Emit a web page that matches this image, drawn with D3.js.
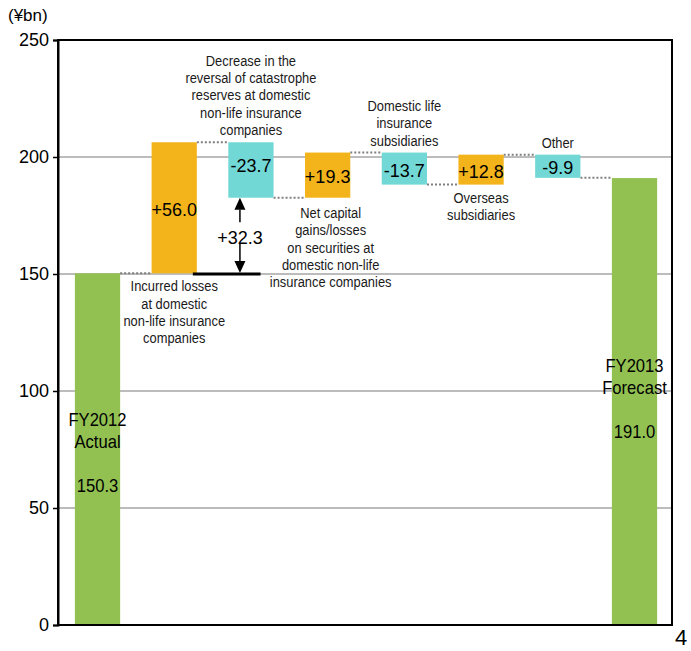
<!DOCTYPE html>
<html>
<head>
<meta charset="utf-8">
<script src="https://cdn.jsdelivr.net/npm/d3@7"></script>
<style>
  html, body { margin: 0; padding: 0; background: #fff; }
  svg { display: block; }
</style>
</head>
<body>
<svg id="chart" width="691" height="651"></svg>
<script>
// ---- data ----
const categories = ["FY2012 Actual", "Incurred losses", "Catastrophe reserves", "Net capital gains", "Domestic life", "Overseas", "Other", "FY2013 Forecast"];
const values = [150.3, 56.0, -23.7, 19.3, -13.7, 12.8, -9.9, 191.0];
const kinds = ["total", "delta", "delta", "delta", "delta", "delta", "delta", "total"];
const valueLabels = ["150.3", "+56.0", "-23.7", "+19.3", "-13.7", "+12.8", "-9.9", "191.0"];
const totalTitles = [["FY2012", "Actual"], null, null, null, null, null, null, ["FY2013", "Forecast"]];
const annotations = [
  null,
  ["Incurred losses", "at domestic", "non-life insurance", "companies"],
  ["Decrease in the", "reversal of catastrophe", "reserves at domestic", "non-life insurance", "companies"],
  ["Net capital", "gains/losses", "on securities at", "domestic non-life", "insurance companies"],
  ["Domestic life", "insurance", "subsidiaries"],
  ["Overseas", "subsidiaries"],
  ["Other"],
  null
];
const annotationSide = [null, "below", "above", "below", "above", "below", "above", null];
const yTicks = [0, 50, 100, 150, 200, 250];
const bracketLabel = "+32.3";
const bracketFrom = 150;      // level of the black reference line
const bracketCategory = 2;    // arrow under the catastrophe bar
const unitLabel = "(¥bn)";
const pageNumber = "4";

// ---- layout ----
const svg = d3.select("#chart");
const margin = { left: 58, right: 19, top: 40, bottom: 26 };
const W = 691, H = 651;
const x = d3.scaleBand().domain(categories).range([margin.left, W - margin.right + 2]).paddingInner(0.41).paddingOuter(0.22);
const y = d3.scaleLinear().domain([0, 250]).range([H - margin.bottom, margin.top]);

const colors = { total: "#92C152", up: "#F3B41B", down: "#72D8D6" };
const fontMain = "'Liberation Sans', Arial, sans-serif";
const narrowScale = 0.86;

// compute waterfall
let running = 0;
const bars = values.map((v, i) => {
  let y0, y1;
  if (kinds[i] === "total") { y0 = 0; y1 = v; running = v; }
  else { y0 = running; y1 = running + v; running = y1; }
  return { cat: categories[i], v, y0, y1, kind: kinds[i], i,
           lo: Math.min(y0, y1), hi: Math.max(y0, y1) };
});

// gridlines
svg.append("g").selectAll("line").data(yTicks.filter(t => t > 0 && t < 250)).join("line")
  .attr("x1", margin.left).attr("x2", W - margin.right)
  .attr("y1", d => y(d)).attr("y2", d => y(d))
  .attr("stroke", "#A6A6A6").attr("stroke-width", 1.5);

// connectors (dotted)
svg.append("g").selectAll("line").data(bars.slice(0, -1)).join("line")
  .attr("x1", d => x(d.cat) + x.bandwidth())
  .attr("x2", d => x(categories[d.i + 1]))
  .attr("y1", d => y(d.y1)).attr("y2", d => y(d.y1))
  .attr("stroke", "#7F7F7F").attr("stroke-width", 2).attr("stroke-dasharray", "2,2");

// bars
svg.append("g").selectAll("rect").data(bars).join("rect")
  .attr("x", d => x(d.cat)).attr("width", x.bandwidth())
  .attr("y", d => y(d.hi)).attr("height", d => y(d.lo) - y(d.hi))
  .attr("fill", d => d.kind === "total" ? colors.total : (d.v >= 0 ? colors.up : colors.down));

// value labels inside delta bars
svg.append("g").selectAll("text").data(bars.filter(d => d.kind === "delta")).join("text")
  .attr("x", d => x(d.cat) + x.bandwidth() / 2)
  .attr("y", d => (y(d.lo) + y(d.hi)) / 2 + (d.i === 2 ? 2 : 8))
  .attr("text-anchor", "middle")
  .attr("font-family", fontMain).attr("font-size", 18).attr("fill", "#000")
  .text(d => valueLabels[d.i]);

// total bar labels
bars.filter(d => d.kind === "total").forEach(d => {
  const cx = x(d.cat) + x.bandwidth() / 2;
  const base = y(d.v * 0.565);
  const g = svg.append("g").attr("font-family", fontMain).attr("font-size", 17.5).attr("text-anchor", "middle").attr("fill", "#000");
  totalTitles[d.i].forEach((t, k) => g.append("text")
    .attr("transform", `translate(${cx},${base + k * 22}) scale(0.95,1)`).text(t));
  g.append("text").attr("transform", `translate(${cx},${base + 66}) scale(0.95,1)`).text(valueLabels[d.i]);
});

// annotations
bars.forEach(d => {
  const lines = annotations[d.i];
  if (!lines) return;
  const cx = x(d.cat) + x.bandwidth() / 2 + (d.i === 3 ? 3 : 0);
  const lh = 17.4;
  const g = svg.append("g").attr("font-family", fontMain).attr("font-size", 15)
    .attr("text-anchor", "middle").attr("fill", "#1a1a1a");
  let first;
  if (annotationSide[d.i] === "below") first = y(d.lo) + (d.i === 3 ? 20 : 18);
  else first = y(d.hi) - 7 - (lines.length - 1) * lh;
  lines.forEach((t, k) => g.append("text")
    .attr("transform", `translate(${cx},${first + k * lh}) scale(${narrowScale},1)`).text(t));
});

// reference black line + double arrow
const bc = bars[bracketCategory];
const ax = x(bc.cat) + x.bandwidth() / 2 - 11;
svg.append("line")
  .attr("x1", x(categories[bracketCategory - 1]) + x.bandwidth() - 4)
  .attr("x2", x(bc.cat) + x.bandwidth() - 13)
  .attr("y1", y(bracketFrom)).attr("y2", y(bracketFrom))
  .attr("stroke", "#000").attr("stroke-width", 3);
const topY = y(bc.lo), botY = y(bracketFrom) - 1;
const midY = (topY + botY) / 2;
const ah = 12, aw = 5.5;
svg.append("path").attr("d", `M${ax},${topY} L${ax - aw},${topY + ah} L${ax + aw},${topY + ah} Z`).attr("fill", "#000");
svg.append("path").attr("d", `M${ax},${botY} L${ax - aw},${botY - ah} L${ax + aw},${botY - ah} Z`).attr("fill", "#000");
svg.append("line").attr("x1", ax).attr("x2", ax).attr("y1", topY + ah).attr("y2", midY - 13).attr("stroke", "#000").attr("stroke-width", 1.5);
svg.append("line").attr("x1", ax).attr("x2", ax).attr("y1", midY + 8).attr("y2", botY - ah).attr("stroke", "#000").attr("stroke-width", 1.5);
svg.append("text").attr("x", ax).attr("y", midY + 2).attr("dy", "0.35em").attr("text-anchor", "middle")
  .attr("font-family", fontMain).attr("font-size", 18).text(bracketLabel);

// frame
svg.append("rect").attr("x", margin.left).attr("y", margin.top)
  .attr("width", W - margin.right - margin.left).attr("height", H - margin.bottom - margin.top)
  .attr("fill", "none").attr("stroke", "#000").attr("stroke-width", 2);

// y axis
const yAxis = svg.append("g").attr("transform", `translate(${margin.left},0)`)
  .call(d3.axisLeft(y).tickValues(yTicks).tickSize(5).tickPadding(4).tickFormat(d3.format("d")));
yAxis.select(".domain").attr("stroke", "#000").attr("stroke-width", 2);
yAxis.selectAll(".tick line").attr("stroke", "#000").attr("stroke-width", 1.5);
yAxis.selectAll(".tick text").attr("font-family", fontMain).attr("font-size", 18).attr("fill", "#000");

// unit label
svg.append("text").attr("x", 8).attr("y", 21).attr("font-family", fontMain).attr("font-size", 17).text(unitLabel);
// page number
svg.append("text").attr("x", 675).attr("y", 645).attr("font-family", fontMain).attr("font-size", 22).text(pageNumber);
</script>
</body>
</html>
